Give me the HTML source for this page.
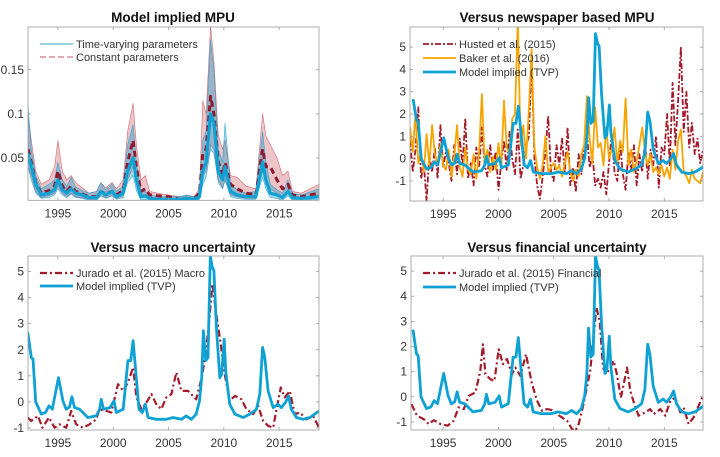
<!DOCTYPE html>
<html><head><meta charset="utf-8"><style>
html,body{margin:0;padding:0;background:#fff;}
svg{display:block;font-family:"Liberation Sans",Arial,sans-serif;}
.tick{font-size:12px;fill:#333;}
.title{font-size:13.5px;font-weight:bold;fill:#111;}
.leg{font-size:11px;fill:#333;}
</style></head><body>
<svg id="chart" width="720" height="457" viewBox="0 0 720 457" xmlns="http://www.w3.org/2000/svg"></svg>
<script>
// ---- Panel 1 data (Model implied MPU levels) ----
const p1Dates=[1992.3,1992.6,1993.0,1993.5,1994.2,1994.7,1995.0,1995.4,1995.8,1996.2,1996.6,1997.2,1997.8,1998.5,1998.9,1999.3,1999.9,2000.3,2000.9,2001.3,2001.8,2002.1,2002.5,2002.9,2003.3,2004.0,2005.0,2006.0,2006.6,2007.3,2007.8,2008.1,2008.4,2008.8,2009.1,2009.5,2009.9,2010.1,2010.6,2011.2,2012.0,2012.9,2013.5,2013.8,2014.2,2014.8,2015.3,2015.8,2016.2,2017.0,2018.6];
const tvpMed=[.055,.04,.02,.008,.01,.014,.025,.014,.01,.015,.01,.008,.005,.005,.012,.008,.012,.006,.01,.035,.05,.025,.006,.007,.004,.003,.003,.003,.004,.003,.006,.035,.045,.1,.09,.035,.025,.04,.012,.008,.006,.006,.045,.025,.01,.008,.005,.012,.005,.004,.006];
const tvpHi=[.11,.06,.03,.015,.02,.025,.045,.025,.018,.028,.017,.013,.01,.012,.022,.014,.02,.012,.018,.065,.088,.045,.012,.012,.008,.006,.006,.006,.008,.006,.012,.07,.08,.185,.15,.06,.045,.09,.02,.014,.01,.012,.08,.045,.02,.014,.01,.025,.01,.008,.015];
const tvpLo=[.04,.025,.01,.004,.005,.008,.015,.008,.005,.009,.005,.004,.002,.002,.007,.004,.007,.003,.005,.022,.03,.013,.002,.003,.002,.001,.001,.001,.002,.001,.003,.02,.028,.06,.055,.022,.015,.025,.006,.004,.003,.003,.028,.015,.005,.004,.002,.007,.002,.002,.003];
const cpMed=[.06,.045,.022,.01,.013,.018,.035,.018,.012,.018,.012,.009,.006,.006,.012,.009,.012,.008,.013,.045,.07,.04,.012,.015,.008,.007,.006,.003,.004,.003,.01,.055,.06,.12,.1,.045,.03,.045,.02,.015,.01,.008,.06,.04,.04,.025,.015,.02,.008,.006,.01];
const cpHi=[.1,.07,.035,.02,.025,.04,.07,.035,.025,.03,.022,.016,.01,.012,.022,.016,.022,.015,.025,.08,.112,.065,.025,.03,.012,.01,.008,.006,.007,.006,.015,.115,.1,.2,.16,.075,.06,.07,.03,.028,.018,.015,.1,.075,.065,.05,.03,.035,.012,.01,.02];
const cpLo=[.04,.03,.012,.005,.007,.01,.018,.01,.006,.01,.006,.005,.003,.003,.007,.005,.007,.004,.007,.025,.04,.022,.005,.007,.003,.003,.002,.001,.002,.001,.004,.03,.035,.065,.06,.025,.016,.025,.008,.006,.004,.004,.035,.02,.015,.01,.006,.01,.003,.003,.005];
// ---- Standardized model implied (TVP) ----
const tvpDates=[1992.28,1992.6,1992.75,1992.9,1993.0,1993.5,1993.9,1994.2,1994.5,1994.7,1995.06,1995.45,1995.75,1996.05,1996.27,1996.5,1996.96,1997.26,1997.7,1998.47,1998.77,1998.92,1999.13,1999.7,2000.07,2000.28,2000.9,2001.33,2001.58,2001.8,2002.03,2002.33,2002.63,2002.9,2003.15,2003.9,2004.8,2005.4,2006.16,2006.6,2007.07,2007.5,2007.8,2008.0,2008.15,2008.36,2008.57,2008.78,2008.97,2009.1,2009.33,2009.63,2009.8,2010.03,2010.17,2010.53,2011.0,2011.74,2012.35,2012.95,2013.25,2013.5,2013.7,2014.0,2014.46,2014.9,2015.2,2015.6,2015.84,2016.1,2016.57,2017.17,2017.78,2018.6];
const tvpStd=[2.67,1.7,1.64,0.68,0,-0.47,-0.4,-0.15,-0.28,0.17,0.93,0.04,-0.28,-0.2,0.2,-0.22,-0.28,-0.41,-0.6,-0.54,-0.28,0.1,-0.28,-0.22,0.04,-0.41,-0.28,1.58,1.58,2.35,1.19,-0.28,-0.41,-0.09,-0.6,-0.67,-0.67,-0.6,-0.67,-0.54,-0.67,-0.47,0.04,0.93,2.73,1.58,1.7,5.6,5.15,5.05,2.86,0.93,1.06,2.41,1.19,-0.09,-0.47,-0.6,-0.47,-0.28,0.3,2.09,1.7,0.42,-0.22,-0.09,-0.22,0.0,0.23,-0.28,-0.6,-0.67,-0.6,-0.35];
// ---- Newspaper-based (quarterly from 1992.0) ----
const newsStart=1992.0;
const bakerVals=[1.4,0.3,2.0,-0.2,0.3,-0.6,1.1,-0.3,1.5,0.2,-0.3,0.6,-0.3,-0.5,0.4,-0.8,0.1,1.5,-0.4,-0.8,0.5,-0.5,-0.7,0.2,-0.9,0.3,2.9,-0.2,0.4,-0.6,0.1,-0.5,0.7,-0.4,2.6,0.5,0.2,1.8,2.0,6.2,0.6,1.5,0.0,2.2,4.9,0.5,-0.4,-0.9,-0.3,1.0,-0.6,-0.4,-0.2,-0.5,-0.3,-0.8,-0.2,0.3,-0.6,-1.0,-0.5,-0.8,0.2,0.6,2.8,0.9,-0.2,2.3,0.5,0.7,-0.3,1.4,0.0,0.4,1.4,-0.2,0.8,0.3,2.7,-0.3,0.4,-0.6,-0.1,0.6,1.4,0.3,-0.3,0.2,-0.6,-0.4,-0.7,-0.3,-0.8,-0.4,-0.9,0.4,-0.5,0.8,1.3,-0.6,-0.8,-1.1,-0.5,-0.9,-1.0,-1.1,-0.6];
const hustedVals=[0.8,-0.6,0.4,2.3,-0.9,-0.2,-1.9,0.2,-0.6,0.5,-0.9,1.5,-0.4,0.3,-0.2,-1.0,0.6,-0.7,0.9,-0.3,1.8,-0.9,-0.2,-1.2,0.5,-0.4,1.4,-0.3,-0.8,0.6,-0.5,0.3,-1.4,-0.2,0.8,-0.5,1.2,0.0,-0.7,1.3,-0.9,-0.3,0.6,1.0,4.5,0.0,-1.2,-1.8,-0.8,0.3,1.9,-0.6,-1.0,0.6,-0.3,0.9,-0.6,1.4,-1.2,-0.4,-1.5,0.2,-0.7,0.5,1.1,-0.4,0.2,-1.2,-0.9,-1.3,-0.6,-1.6,-0.2,1.1,-0.6,-1.0,0.7,-0.7,-1.4,0.3,-0.5,0.6,-1.2,0.2,-0.6,0.8,-0.9,0.4,-0.3,1.0,-1.3,0.5,0.2,2.0,-0.3,3.4,0.6,2.6,5.0,1.2,3.0,0.5,1.6,0.2,0.9,-0.2,0.4];
// ---- Jurado et al. ----
const macroDates=[1992.28,1992.6,1993.2,1993.6,1994.2,1994.7,1995.15,1995.75,1996.2,1996.66,1997.26,1997.87,1998.47,1998.77,1999.4,1999.83,2000.43,2000.9,2001.33,2001.8,2002.1,2002.54,2003.0,2003.45,2003.9,2004.35,2004.8,2005.26,2005.7,2006.16,2006.76,2007.2,2007.5,2008.0,2008.36,2008.73,2008.97,2009.27,2009.63,2010.08,2010.53,2011.0,2011.6,2012.04,2012.65,2013.1,2013.55,2014.0,2014.46,2014.76,2015.15,2015.5,2015.96,2016.4,2016.87,2017.47,2018.07,2018.6];
const macroVals=[-0.6,-0.73,-0.54,-0.99,-0.6,-0.99,-0.86,-0.99,-0.35,-0.86,-0.99,-0.86,-0.67,-0.28,-0.35,-0.41,0.68,0.42,0.74,1.32,0.17,-0.28,-0.03,0.3,-0.09,-0.28,0.17,0.3,1.13,0.42,0.42,0.23,0.1,0.93,1.83,3.37,4.53,3.5,2.47,1.06,0.04,0.23,0.1,-0.28,-0.47,-0.15,-0.73,-0.92,-0.99,-0.28,0.55,0.17,0.42,-0.47,-0.41,-0.67,-0.54,-0.99];
const finDates=[1992.14,1992.65,1993.25,1993.7,1994.16,1994.76,1995.42,1995.96,1996.4,1996.87,1997.32,1997.92,1998.37,1998.6,1998.83,1999.28,1999.64,2000.03,2000.42,2000.78,2001.23,2001.54,2001.99,2002.5,2002.74,2003.04,2003.5,2003.95,2004.4,2004.85,2005.3,2005.75,2006.2,2006.66,2006.96,2007.26,2007.7,2008.3,2008.6,2008.86,2009.16,2009.46,2009.76,2010.12,2010.42,2010.72,2011.08,2011.33,2011.63,2011.93,2012.29,2012.68,2013.28,2013.73,2014.04,2014.64,2015.09,2015.54,2015.99,2016.45,2016.75,2017.2,2017.65,2018.5];
const finVals=[-0.29,-0.75,-0.89,-1.08,-0.93,-1.08,-1.15,-0.95,-0.42,-0.49,0.04,0.17,1.03,2.09,0.9,0.7,0.63,1.89,1.3,1.5,0.9,1.16,0.83,1.69,1.16,0.5,-0.16,-0.56,-0.49,-0.53,-0.69,-0.82,-0.95,-1.28,-1.35,-1.08,-0.29,1.03,2.35,3.55,3.02,1.16,0.9,1.16,1.43,0.9,-0.03,0.5,1.16,0.24,-0.29,-0.75,-0.62,-0.49,-0.69,-0.49,-0.75,-0.16,-0.03,-0.62,-0.42,-1.08,-0.82,0.04];
const xTicks=[1995,2000,2005,2010,2015];
const p1YTicks=[0.05,0.1,0.15];
const p1YLabels=["0.05","0.1","0.15"];
const stdYTicksNews=[-1,0,1,2,3,4,5];
const stdYTicksUnc=[-1,0,1,2,3,4,5];

const BLUE="#0ea2d4", RED="#a31b2b", ORANGE="#f7a400";
const NS="http://www.w3.org/2000/svg";
const svg=document.getElementById('chart');
function el(tag,attrs,parent){const e=document.createElementNS(NS,tag);for(const k in attrs)e.setAttribute(k,attrs[k]);(parent||svg).appendChild(e);return e;}

function makePanel(id,box,xlim,ylim){
  const g=el('g',{});
  
  
  const cp=el('clipPath',{id:'clip-'+id},g);
  el('rect',{x:box.x0,y:box.y0,width:box.x1-box.x0,height:box.y1-box.y0},cp);
  const sx=v=>box.x0+(v-xlim[0])/(xlim[1]-xlim[0])*(box.x1-box.x0);
  const sy=v=>box.y1-(v-ylim[0])/(ylim[1]-ylim[0])*(box.y1-box.y0);
  const plot=el('g',{'clip-path':'url(#clip-'+id+')'},g);
  
  
  return {g,plot,sx,sy,box};
}
function axes(P,yt,ylab,name){
  const b=P.box;
  const frame=el('rect',{x:b.x0,y:b.y0,width:b.x1-b.x0,height:b.y1-b.y0,fill:'none',stroke:'#9a9a9a','stroke-width':0.8},P.g);
  
  
  xTicks.forEach(t=>{
    const x=P.sx(t);
    el('line',{x1:x,x2:x,y1:b.y1,y2:b.y1-3,stroke:'#9a9a9a','stroke-width':0.8},P.g);
    el('line',{x1:x,x2:x,y1:b.y0,y2:b.y0+3,stroke:'#9a9a9a','stroke-width':0.8},P.g);
    const tx=el('text',{x:x,y:b.y1+17,'text-anchor':'middle',class:'tick'},P.g);
    tx.textContent=t;
    
    
  });
  yt.forEach((t,i)=>{
    const y=P.sy(t);
    el('line',{x1:b.x0,x2:b.x0+3,y1:y,y2:y,stroke:'#9a9a9a','stroke-width':0.8},P.g);
    el('line',{x1:b.x1,x2:b.x1-3,y1:y,y2:y,stroke:'#9a9a9a','stroke-width':0.8},P.g);
    const ty=el('text',{x:b.x0-4,y:y+4,'text-anchor':'end',class:'tick'},P.g);
    ty.textContent=ylab?ylab[i]:String(t);
    
    
  });
}
function line(P,xs,ys,style,name){
  const n=Math.min(xs.length,ys.length);let d='';
  for(let i=0;i<n;i++)d+=(i?'L':'M')+P.sx(xs[i]).toFixed(1)+' '+P.sy(ys[i]).toFixed(1);
  const p=el('path',Object.assign({d:d,fill:'none','stroke-linejoin':'round'},style),P.plot);
  
  
}
function band(P,xs,lo,hi,fill,stroke,name){
  const n=Math.min(xs.length,lo.length,hi.length);let d='';
  for(let i=0;i<n;i++)d+=(i?'L':'M')+P.sx(xs[i]).toFixed(1)+' '+P.sy(hi[i]).toFixed(1);
  for(let i=n-1;i>=0;i--)d+='L'+P.sx(xs[i]).toFixed(1)+' '+P.sy(lo[i]).toFixed(1);
  const p=el('path',{d:d+'Z',fill:fill,stroke:stroke,'stroke-width':0.6},P.plot);
  
  
}
function title(P,x,y,txt,name){const t=el('text',{x:x,y:y,'text-anchor':'middle',class:'title'},P.g);t.textContent=txt;}
function legend(P,x,y,txt,style,name){
  const l=el('line',Object.assign({x1:x,x2:x+33,y1:y,y2:y},style),P.g);
  
  
  const t=el('text',{x:x+36,y:y+4,class:'leg'},P.g);t.textContent=txt;
  
  
}
const quarterX=v=>v.map((_,i)=>newsStart+i*0.25);

// Panel 1
const P1=makePanel('panel-model-implied-mpu',{x0:28,y0:27,x1:319,y1:200.3},[1992.3,2018.6],[0.0019,0.1985]);
band(P1,p1Dates,cpLo,cpHi,'rgba(200,70,80,0.32)','rgba(190,60,70,0.7)','constant-params-band');
band(P1,p1Dates,tvpLo,tvpHi,'rgba(20,150,200,0.38)','rgba(20,160,210,0.8)','tvp-band');
line(P1,p1Dates,cpMed,{stroke:'#8e1a30','stroke-width':3,'stroke-dasharray':'6 4'},'constant-params-median-line');
line(P1,p1Dates,tvpMed,{stroke:BLUE,'stroke-width':3.2},'tvp-median-line');
axes(P1,p1YTicks,p1YLabels,'panel1');
title(P1,173,22,'Model implied MPU','panel1-title');
legend(P1,40,44,'Time-varying parameters',{stroke:'#5fb8d6','stroke-width':1.2},'legend-time-varying');
legend(P1,40,57,'Constant parameters',{stroke:'#d07a82','stroke-width':1.2,'stroke-dasharray':'6 3'},'legend-constant');

// Panel 2
const P2=makePanel('panel-newspaper-mpu',{x0:410,y0:27,x1:703,y1:201},[1992.0,2018.5],[-1.9,5.9]);
line(P2,quarterX(hustedVals),hustedVals,{stroke:RED,'stroke-width':1.8,'stroke-dasharray':'6 2 2 2'},'husted-line');
line(P2,quarterX(bakerVals),bakerVals,{stroke:ORANGE,'stroke-width':1.8},'baker-line');
line(P2,tvpDates,tvpStd,{stroke:BLUE,'stroke-width':2.8},'model-tvp-line');
axes(P2,stdYTicksNews,null,'panel2');
title(P2,557,22,'Versus newspaper based MPU','panel2-title');
legend(P2,423,44,'Husted et al. (2015)',{stroke:RED,'stroke-width':1.8,'stroke-dasharray':'6 2 2 2'},'legend-husted');
legend(P2,423,58,'Baker et al. (2016)',{stroke:ORANGE,'stroke-width':1.8},'legend-baker');
legend(P2,423,72,'Model implied (TVP)',{stroke:BLUE,'stroke-width':2.8},'legend-model-tvp');

// Panel 3
const P3=makePanel('panel-macro-uncertainty',{x0:28,y0:256,x1:319,y1:430},[1992.3,2018.6],[-1.08,5.6]);
line(P3,macroDates,macroVals,{stroke:RED,'stroke-width':2.2,'stroke-dasharray':'7 3 2 3'},'jurado-macro-line');
line(P3,tvpDates,tvpStd,{stroke:BLUE,'stroke-width':2.8},'model-tvp-line');
axes(P3,stdYTicksUnc,null,'panel3');
title(P3,173,252,'Versus macro uncertainty','panel3-title');
legend(P3,40,273,'Jurado et al. (2015) Macro',{stroke:RED,'stroke-width':2.2,'stroke-dasharray':'7 3 2 3'},'legend-jurado-macro');
legend(P3,40,286,'Model implied (TVP)',{stroke:BLUE,'stroke-width':2.8},'legend-model-tvp');

// Panel 4
const P4=makePanel('panel-financial-uncertainty',{x0:411,y0:256,x1:703,y1:430},[1992.1,2018.5],[-1.32,5.6]);
line(P4,finDates,finVals,{stroke:RED,'stroke-width':2.2,'stroke-dasharray':'7 3 2 3'},'jurado-financial-line');
line(P4,tvpDates,tvpStd,{stroke:BLUE,'stroke-width':2.8},'model-tvp-line');
axes(P4,stdYTicksUnc,null,'panel4');
title(P4,557,252,'Versus financial uncertainty','panel4-title');
legend(P4,423,273,'Jurado et al. (2015) Financial',{stroke:RED,'stroke-width':2.2,'stroke-dasharray':'7 3 2 3'},'legend-jurado-financial');
legend(P4,423,287,'Model implied (TVP)',{stroke:BLUE,'stroke-width':2.8},'legend-model-tvp');
</script>
</body></html>
